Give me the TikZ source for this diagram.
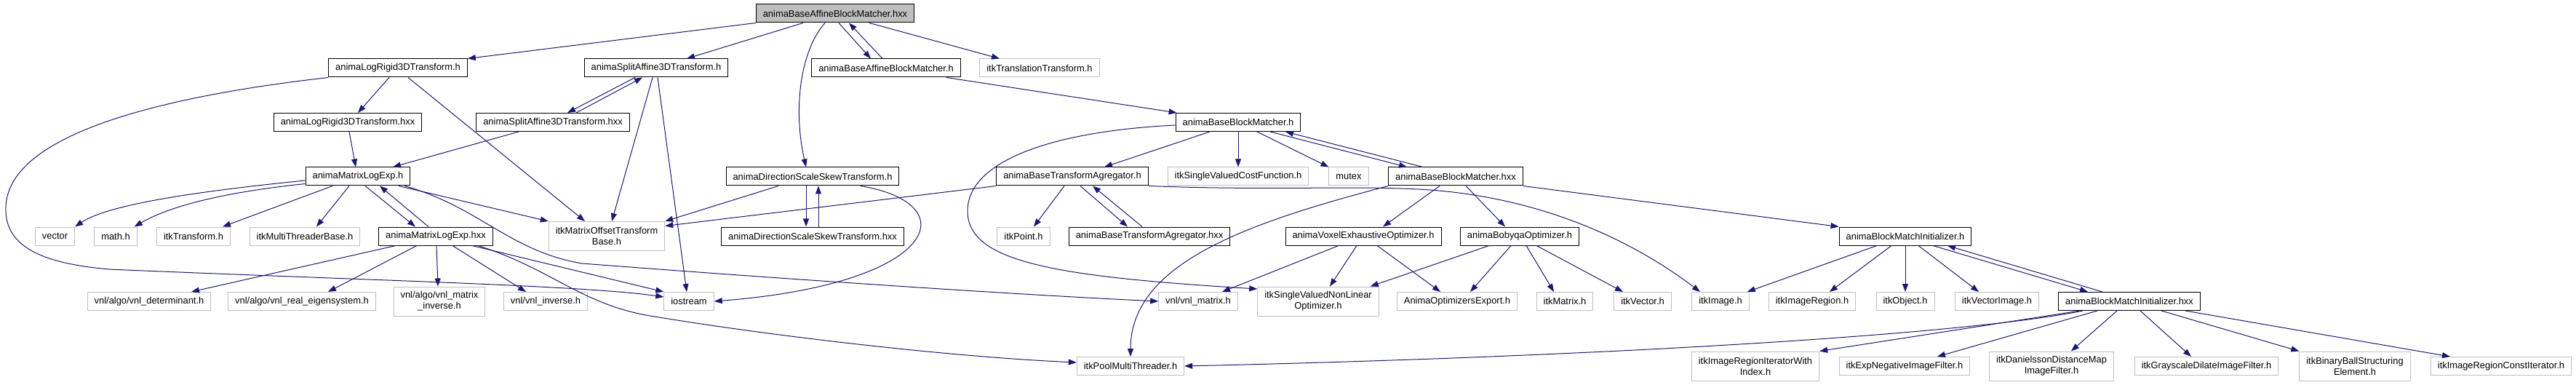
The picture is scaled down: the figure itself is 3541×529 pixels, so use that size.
\documentclass[tikz,border=0pt]{standalone}
\usepackage{fontspec}
\setmainfont{Liberation Sans}
\usetikzlibrary{arrows.meta}
\definecolor{edgeblue}{HTML}{191970}
\definecolor{extgray}{HTML}{BFBFBF}

\begin{document}
\begin{tikzpicture}[x=1pt, y=-1pt,
  file/.style={draw=black, line width=1pt, rectangle, minimum height=25pt, inner xsep=9.5pt, inner ysep=2pt, align=center, font=\fontsize{12.9pt}{15pt}\selectfont},
  ext/.style={file, draw=extgray},
  root/.style={file, fill=extgray},
  twoline/.style={minimum height=40pt},
  dep/.style={draw=edgeblue, line width=1pt, -{Triangle[length=11pt,width=8pt]}}]
\useasboundingbox (0,0) rectangle (3541,529);

% Nodes
\node[root] (root) at (1148,18.5) {animaBaseAffineBlockMatcher.hxx};

\node[file] (lr) at (547,93.5) {animaLogRigid3DTransform.h};
\node[file] (sa) at (902,93.5) {animaSplitAffine3DTransform.h};
\node[file] (ba) at (1218,93.5) {animaBaseAffineBlockMatcher.h};
\node[ext] (tt) at (1429,93.5) {itkTranslationTransform.h};

\node[file] (lrx) at (478,168) {animaLogRigid3DTransform.hxx};
\node[file] (sax) at (760,168) {animaSplitAffine3DTransform.hxx};
\node[file] (bb) at (1702,168) {animaBaseBlockMatcher.h};

\node[file] (ml) at (492,242.5) {animaMatrixLogExp.h};
\node[file] (ds) at (1117,242.5) {animaDirectionScaleSkewTransform.h};
\node[file] (bta) at (1474,242.5) {animaBaseTransformAgregator.h};
\node[ext] (svcf) at (1702,242.5) {itkSingleValuedCostFunction.h};
\node[ext] (mutex) at (1854,242.5) {mutex};
\node[file] (bbx) at (2001,242.5) {animaBaseBlockMatcher.hxx};

\node[ext] (vector) at (75.5,324.5) {vector};
\node[ext] (math) at (159,324.5) {math.h};
\node[ext] (itktr) at (266,324.5) {itkTransform.h};
\node[ext] (mtb) at (419,324.5) {itkMultiThreaderBase.h};
\node[file] (mlx) at (599,324.5) {animaMatrixLogExp.hxx};
\node[ext, twoline] (mo) at (834,324.5) {itkMatrixOffsetTransform\\Base.h};
\node[file] (dsx) at (1117,324.5) {animaDirectionScaleSkewTransform.hxx};
\node[ext] (point) at (1407,324.5) {itkPoint.h};
\node[file] (btax) at (1580,324.5) {animaBaseTransformAgregator.hxx};
\node[file] (veo) at (1874,324.5) {animaVoxelExhaustiveOptimizer.h};
\node[file] (bo) at (2089,324.5) {animaBobyqaOptimizer.h};
\node[file] (bmi) at (2619,324.5) {animaBlockMatchInitializer.h};

\node[ext] (det) at (205,414) {vnl/algo/vnl\_determinant.h};
\node[ext] (eig) at (415,414) {vnl/algo/vnl\_real\_eigensystem.h};
\node[ext, twoline] (minv) at (604,414) {vnl/algo/vnl\_matrix\\\_inverse.h};
\node[ext] (vinv) at (750,414) {vnl/vnl\_inverse.h};
\node[ext] (io) at (947,414) {iostream};
\node[ext] (vm) at (1647,414) {vnl/vnl\_matrix.h};
\node[ext, twoline] (svnlo) at (1812,414) {itkSingleValuedNonLinear\\Optimizer.h};
\node[ext] (aoe) at (2003,414) {AnimaOptimizersExport.h};
\node[ext] (itkmat) at (2151,414) {itkMatrix.h};
\node[ext] (itkvec) at (2258,414) {itkVector.h};
\node[ext] (img) at (2365,414) {itkImage.h};
\node[ext] (imgreg) at (2491,414) {itkImageRegion.h};
\node[ext] (obj) at (2619,414) {itkObject.h};
\node[ext] (vimg) at (2745,414) {itkVectorImage.h};
\node[file] (bmix) at (2927,414) {animaBlockMatchInitializer.hxx};

\node[ext] (pool) at (1554,503) {itkPoolMultiThreader.h};
\node[ext, twoline] (iriwi) at (2413,503) {itkImageRegionIteratorWith\\Index.h};
\node[ext] (expneg) at (2618,503) {itkExpNegativeImageFilter.h};
\node[ext, twoline] (dan) at (2820,503) {itkDanielssonDistanceMap\\ImageFilter.h};
\node[ext] (gdil) at (3033,503) {itkGrayscaleDilateImageFilter.h};
\node[ext, twoline] (bball) at (3237,503) {itkBinaryBallStructuring\\Element.h};
\node[ext] (ircit) at (3438,503) {itkImageRegionConstIterator.h};

% Arrows
\draw[dep] (root.south west) -- (lr.north east);
\draw[dep] ([xshift=-44pt]root.south) -- ([xshift=42pt]sa.north);
\draw[dep] ([xshift=-14pt]root.south) .. controls (1100,70) and (1090,150) .. ([xshift=-9pt]ds.north);
\draw[dep] ([xshift=5pt]root.south) -- ([xshift=-21pt]ba.north);
\draw[dep] ([xshift=-5pt]ba.north) -- ([xshift=19pt]root.south);
\draw[dep] ([xshift=47pt]root.south) -- ([xshift=-55pt]tt.north);

\draw[dep] ([xshift=-12pt]lr.south) -- ([xshift=14pt]lrx.north);
\draw[dep] ([xshift=14pt]lr.south) -- ([xshift=-30pt]mo.north);
\draw[dep] (lr.south west) .. controls (200,135) and (10,190) .. (8,285)
  .. controls (6,340) and (60,362) .. (150,370)
  .. controls (500,385) and (800,392) .. ([yshift=6pt]io.west);

\draw[dep] ([xshift=-29pt]sa.south) -- ([xshift=20pt]sax.north);
\draw[dep] ([xshift=32pt]sax.north) -- ([xshift=-19pt]sa.south);
\draw[dep] ([xshift=-5pt]sa.south) -- ([xshift=7pt]mo.north);
\draw[dep] ([xshift=2pt]sa.south) -- ([xshift=-3pt]io.north);
\draw[dep] ([xshift=-47pt]sax.south) -- ([xshift=48pt]ml.north);
\draw[dep] ([xshift=2pt]lrx.south) -- ([xshift=-3pt]ml.north);

\draw[dep] ([yshift=-5.5pt]ml.west) .. controls (280,262) and (150,280) .. (vector.north east);
\draw[dep] ([yshift=-10pt]ml.west) .. controls (300,265) and (230,285) .. ([xshift=-4pt]math.north east);
\draw[dep] ([xshift=-35pt]ml.south) -- ([xshift=40pt]itktr.north);
\draw[dep] ([xshift=-12pt]ml.south) -- ([xshift=16pt]mtb.north);
\draw[dep] ([xshift=10pt]ml.south) -- ([xshift=-28pt]mlx.north);
\draw[dep] ([xshift=-10pt]mlx.north) -- ([xshift=30pt]ml.south);
\draw[dep] ([xshift=56pt]ml.south) -- (mo.north west);
\draw[dep] ([xshift=-8pt]ml.south east) .. controls (660,285) and (700,345) .. (800,362)
  .. controls (1100,385) and (1400,405) .. (vm.west);

\draw[dep] ([xshift=-55pt]mlx.south) -- ([xshift=58pt]det.north);
\draw[dep] ([xshift=-26pt]mlx.south) -- ([xshift=36pt]eig.north);
\draw[dep] ([xshift=1pt]mlx.south) -- ([xshift=-2pt]minv.north);
\draw[dep] ([xshift=23pt]mlx.south) -- ([xshift=-27pt]vinv.north);
\draw[dep] ([xshift=50pt]mlx.south) -- (io.north west);
\draw[dep] ([xshift=58pt]mlx.south) .. controls (760,370) and (800,420) .. (900,435)
  .. controls (1050,460) and (1300,490) .. ([yshift=5pt]pool.west);

\draw[dep] ([xshift=-9pt]ds.south) -- ([xshift=-9pt]dsx.north);
\draw[dep] ([xshift=8pt]dsx.north) -- ([xshift=8pt]ds.south);
\draw[dep] ([xshift=-47pt]ds.south) -- (mo.north east);
\draw[dep] ([xshift=66pt]ds.south) .. controls (1330,280) and (1290,390) .. (io.east);

\draw[dep] (bta.south west) -- ([yshift=14pt]mo.east);
\draw[dep] ([xshift=-11pt]bta.south) -- ([xshift=14pt]point.north);
\draw[dep] ([xshift=11pt]bta.south) -- ([xshift=-30pt]btax.north);
\draw[dep] ([xshift=-10pt]btax.north) -- ([xshift=28pt]bta.south);
\draw[dep] (bta.south east) .. controls (1750,262) and (1850,255) .. (1950,260)
  .. controls (2100,268) and (2230,320) .. ([xshift=-28pt]img.north);

\draw[dep] ([xshift=83pt]ba.south) -- ([xshift=2pt]bb.north west);
\draw[dep] ([yshift=-4pt]bb.west) .. controls (1450,180) and (1330,220) .. (1330,290)
  .. controls (1330,360) and (1450,380) .. ([yshift=17pt]svnlo.west);
\draw[dep] ([xshift=-39pt]bb.south) -- ([xshift=44pt]bta.north);
\draw[dep] (bb.south) -- (svcf.north);
\draw[dep] ([xshift=26pt]bb.south) -- (mutex.north west);
\draw[dep] ([xshift=44pt]bb.south) -- ([xshift=-67pt]bbx.north);
\draw[dep] ([xshift=-45pt]bbx.north) -- ([xshift=65pt]bb.south);

\draw[dep] (bbx.south west) .. controls (1720,305) and (1554,360) .. (pool.north);
\draw[dep] ([xshift=-22pt]bbx.south) -- ([xshift=27pt]veo.north);
\draw[dep] ([xshift=14pt]bbx.south) -- ([xshift=-20pt]bo.north);
\draw[dep] (bbx.south east) -- (bmi.north west);

\draw[dep] ([xshift=-34pt]veo.south) -- ([xshift=33pt]vm.north);
\draw[dep] ([xshift=-9pt]veo.south) -- ([xshift=16pt]svnlo.north);
\draw[dep] ([xshift=19pt]veo.south) -- ([xshift=-23pt]aoe.north);

\draw[dep] ([xshift=-42pt]bo.south) -- ([xshift=-12pt]svnlo.north east);
\draw[dep] ([xshift=-12pt]bo.south) -- ([xshift=18pt]aoe.north);
\draw[dep] ([xshift=9pt]bo.south) -- ([xshift=-15pt]itkmat.north);
\draw[dep] ([xshift=23pt]bo.south) -- ([xshift=-27pt]itkvec.north);

\draw[dep] ([xshift=-39pt]bmi.south) -- ([xshift=-3pt]img.north east);
\draw[dep] ([xshift=-19pt]bmi.south) -- ([xshift=24pt]imgreg.north);
\draw[dep] (bmi.south) -- (obj.north);
\draw[dep] ([xshift=18pt]bmi.south) -- ([xshift=-25pt]vimg.north);
\draw[dep] ([xshift=38pt]bmi.south) -- ([xshift=-57pt]bmix.north);
\draw[dep] ([xshift=-37pt]bmix.north) -- ([xshift=58pt]bmi.south);

\draw[dep] ([xshift=-64pt]bmix.south) .. controls (2700,460) and (2200,490) .. (pool.east);
\draw[dep] ([xshift=-68pt]bmix.south) -- (iriwi.north east);
\draw[dep] ([xshift=-44pt]bmix.south) -- ([xshift=45pt]expneg.north);
\draw[dep] ([xshift=-17pt]bmix.south) -- ([xshift=27pt]dan.north);
\draw[dep] ([xshift=15pt]bmix.south) -- ([xshift=-21pt]gdil.north);
\draw[dep] ([xshift=44pt]bmix.south) -- (bball.north west);
\draw[dep] ([xshift=77pt]bmix.south) -- ([xshift=-70pt]ircit.north);
\end{tikzpicture}
\end{document}
